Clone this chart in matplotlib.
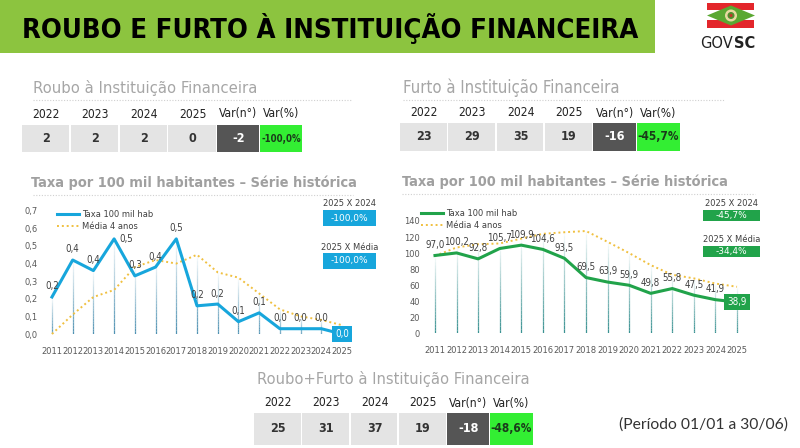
import matplotlib
matplotlib.use("Agg")
import matplotlib.pyplot as plt
from matplotlib import font_manager as fm
from matplotlib.patches import Rectangle, Polygon, Circle
from matplotlib.collections import LineCollection
import numpy as np

W, H = 800, 448

# ---- data ----
years = list(range(2011, 2026))
roubo_taxa = [0.21, 0.42, 0.36, 0.54, 0.33, 0.38, 0.54, 0.16, 0.17, 0.07, 0.12, 0.03, 0.03, 0.03, 0.0]
roubo_media = [0.0, 0.11, 0.21, 0.25, 0.38, 0.42, 0.40, 0.45, 0.35, 0.32, 0.23, 0.14, 0.10, 0.08, 0.05]
furto_taxa = [97.0, 100.2, 92.8, 105.7, 109.9, 104.6, 93.5, 69.5, 63.9, 59.9, 49.8, 55.8, 47.5, 41.9, 38.9]
furto_media = [96.5, 107, 111, 112, 118, 124, 126, 127.5, 114, 100, 85, 73, 68.5, 62, 58]

tab_years = ['2022', '2023', '2024', '2025']
var_heads = ['Var(n°)', 'Var(%)']
roubo_tab = [2, 2, 2, 0]
roubo_var = ['-2', '-100,0%']
furto_tab = [23, 29, 35, 19]
furto_var = ['-16', '-45,7%']
total_tab = [25, 31, 37, 19]
total_var = ['-18', '-48,6%']

roubo_cmp = ['-100,0%', '-100,0%']
furto_cmp = ['-45,7%', '-34,4%']
cmp_labels = ['2025 X 2024', '2025 X Média']

BLUE = '#17a6dc'
GREEN = '#21a34a'
GOLD = '#f0c040'


def fmt(v):
    return f"{v:.1f}".replace('.', ',')


def weight_num(w):
    if isinstance(w, int):
        return w
    return {'bold': 700, 'heavy': 800, 'black': 900, 'semibold': 600, 'demibold': 600,
            'medium': 500}.get(str(w).lower(), 400)


def pick_condensed(bold):
    best = None
    for f in fm.fontManager.ttflist:
        n = f.name.lower()
        st = f.stretch
        cond = ('narrow' in n or 'condensed' in n or
                st in ('condensed', 'semi-condensed', 'extra-condensed', 'ultra-condensed') or
                (isinstance(st, int) and st < 100))
        if not cond or f.style != 'normal' or 'mono' in n:
            continue
        wn = weight_num(f.weight)
        score = abs(wn - (700 if bold else 400))
        if best is None or score < best[0]:
            best = (score, f.fname)
    if best is not None:
        return fm.FontProperties(fname=best[1])
    return fm.FontProperties(family='DejaVu Sans', weight='bold' if bold else 'normal')


COND = pick_condensed(False)
COND_B = pick_condensed(True)

fig = plt.figure(figsize=(W / 100, H / 100), dpi=100)
renderer = fig.canvas.get_renderer()
bg = fig.add_axes([0, 0, 1, 1], zorder=0)
bg.set_xlim(0, W); bg.set_ylim(H, 0); bg.axis('off')


def sized(fp, size):
    p = fp.copy(); p.set_size(size)
    return p


def fit(fp, s, width, cap=None):
    p = sized(fp, 10)
    t = fig.text(0, 0, s, fontproperties=p)
    w = t.get_window_extent(renderer).width
    t.remove()
    size = 10 * width / w
    if cap is not None:
        size = min(size, cap)
    return sized(fp, size)


def axes_px(x0, y0, x1, y1, z):
    return fig.add_axes([x0 / W, 1 - y1 / H, (x1 - x0) / W, (y1 - y0) / H], zorder=z)


# ---- header ----
title = 'ROUBO E FURTO À INSTITUIÇÃO FINANCEIRA'
bg.add_patch(Rectangle((0, 0), 655, 53, color='#8cc43f', lw=0))
bg.text(22, 28, title, fontproperties=fit(COND_B, title, 613), color='black',
        va='center', ha='left')

# logo
bg.add_patch(Rectangle((707, 3), 47, 7.5, color='#e3262b', lw=0))
bg.add_patch(Rectangle((707, 20.5), 47, 7.5, color='#e3262b', lw=0))
bg.add_patch(Polygon([(707, 15.5), (731, 5.5), (755, 15.5), (731, 25.5)], color='#5aa832', lw=0))
bg.add_patch(Circle((731, 15.5), 6, color='#e8d9a0', lw=0))
bg.add_patch(Circle((731, 15.5), 3.5, color='#4f8f2f', lw=0))
bg.add_patch(Circle((731, 15.5), 1.6, color='#c0392b', lw=0))
bg.text(733, 43, 'GOV', fontsize=10.5, color='#222222', ha='right', va='center')
bg.text(734, 43, 'SC', fontsize=10.5, color='#222222', ha='left', va='center',
        fontweight='bold')


def dotted(x0, x1, y):
    bg.plot([x0, x1], [y, y], color='#d0d0d0', lw=0.8, ls=(0, (1, 1.5)))


HEAD_FP = fit(COND, 'Var(n°)', 38)
CELL_FP = sized(COND_B, 9)


def table(title, tx, ty, tw, x0, xd, xg, xe, yh, y0, y1, vals, var):
    bg.text(tx, ty, title, fontproperties=fit(COND, title, tw), color='#a6a6a6',
            va='center', ha='left')
    cw = (xd - x0) / 4
    for i, (yr, v) in enumerate(zip(tab_years, vals)):
        cx = x0 + i * cw
        bg.add_patch(Rectangle((cx, y0), cw - 1.5, y1 - y0, color='#e4e4e4', lw=0))
        bg.text(cx + cw / 2, yh, yr, fontproperties=HEAD_FP, color='#222222',
                ha='center', va='center')
        bg.text(cx + cw / 2, (y0 + y1) / 2, str(v), fontproperties=CELL_FP,
                color='#333333', ha='center', va='center')
    bg.add_patch(Rectangle((xd, y0), xg - xd - 1, y1 - y0, color='#555555', lw=0))
    bg.add_patch(Rectangle((xg, y0), xe - xg, y1 - y0, color='#33ee33', lw=0))
    bg.text((xd + xg) / 2, yh, var_heads[0], fontproperties=HEAD_FP, color='#222222',
            ha='center', va='center')
    bg.text((xg + xe) / 2, yh, var_heads[1], fontproperties=HEAD_FP, color='#222222',
            ha='center', va='center')
    bg.text((xd + xg) / 2, (y0 + y1) / 2, var[0], fontproperties=CELL_FP, color='white',
            ha='center', va='center')
    bg.text((xg + xe) / 2, (y0 + y1) / 2, var[1],
            fontproperties=fit(COND_B, var[1], xe - xg - 2, cap=9), color='#1a3a1a',
            ha='center', va='center')


table('Roubo à Instituição Financeira', 33, 88, 223, 22, 217, 260, 302, 114, 125, 152,
      roubo_tab, roubo_var)
table('Furto à Instituição Financeira', 403, 88, 217, 400, 593, 637, 680, 113, 123, 151,
      furto_tab, furto_var)
table('Roubo+Furto à Instituição Financeira', 257, 379, 272, 254, 447, 490, 533, 403, 413,
      445, total_tab, total_var)
dotted(33, 352, 100)
dotted(403, 724, 100)
dotted(33, 353, 195)
dotted(402, 755, 194)

periodo = '(Período 01/01 a 30/06)'
bg.text(619, 425, periodo, fontproperties=fit(fm.FontProperties(family='Lato'), periodo, 168),
        color='#333333', ha='left', va='center')

chart_title = 'Taxa por 100 mil habitantes – Série histórica'
CT_FP = fit(COND_B, chart_title, 325)
bg.text(31, 183, chart_title, fontproperties=CT_FP, color='#a0a0a0', va='center')
bg.text(402, 182, chart_title, fontproperties=CT_FP, color='#a0a0a0', va='center')

LABEL_FP = sized(COND, 7)
label_shift = {2014: (9, -4)}


def drop_lines(ax, xs, tops, rgb):
    segs, cols = [], []
    n = 24
    for x, t in zip(xs, tops):
        ys = np.linspace(0, t, n + 1)
        for k in range(n):
            segs.append([(x, ys[k]), (x, ys[k + 1])])
            cols.append(rgb + (0.85 * (1 - k / n),))
    ax.add_collection(LineCollection(segs, colors=cols, linewidths=0.9, zorder=1))


def chart(ax, taxa, media, color, ymax, ystep, drop_rgb, leg_anchor, shifts):
    ax.set_facecolor('none')
    drop_lines(ax, years, [max(a, b) for a, b in zip(taxa, media)], drop_rgb)
    ax.plot(years, taxa, color=color, lw=2.2, label='Taxa 100 mil hab', zorder=3,
            clip_on=False)
    ax.plot(years, media, color=GOLD, lw=1.4, ls=(0, (1, 1.5)), label='Média 4 anos',
            zorder=2, clip_on=False)
    for x, v in zip(years[:-1], taxa[:-1]):
        dx, dy = shifts.get(x, (0, 4))
        ax.annotate(fmt(v), (x, v), xytext=(dx, dy), textcoords='offset points',
                    ha='center', va='bottom', fontproperties=LABEL_FP, color='#404040')
    ax.annotate(fmt(taxa[-1]), (years[-1], taxa[-1]), ha='center', va='center',
                fontproperties=LABEL_FP, color='white', zorder=6,
                bbox=dict(boxstyle='square,pad=0.35', fc=color, ec='none'))
    ax.set_xlim(2010.5, 2025.5)
    ax.set_ylim(0, ymax)
    ticks = np.arange(0, ymax + ystep / 2, ystep)
    ax.set_yticks(ticks)
    ax.set_yticklabels([fmt(t) if ystep < 1 else str(int(t)) for t in ticks])
    ax.set_xticks(years)
    ax.set_xticklabels([str(y) for y in years])
    ax.tick_params(length=0, labelsize=6, colors='#595959')
    ax.tick_params(axis='x', pad=9)
    ax.tick_params(axis='y', pad=3)
    for s in ax.spines.values():
        s.set_visible(False)
    leg = ax.legend(loc='upper left', bbox_to_anchor=leg_anchor, frameon=False,
                    fontsize=6, handlelength=2.6, handletextpad=0.4, labelspacing=0.35,
                    borderaxespad=0)
    for t in leg.get_texts():
        t.set_color('#404040')


ax1 = axes_px(41.6, 210.7, 352.4, 334, 2)
chart(ax1, roubo_taxa, roubo_media, BLUE, 0.7, 0.1, (0.2, 0.5, 0.65), (0.04, 1.03),
      label_shift)
ax2 = axes_px(424.2, 221, 747.8, 333.3, 2)
chart(ax2, furto_taxa, furto_media, GREEN, 140, 20, (0.1, 0.5, 0.5), (-0.02, 1.14), {})

# comparison boxes
fg = fig.add_axes([0, 0, 1, 1], zorder=5)
fg.set_xlim(0, W); fg.set_ylim(H, 0); fg.axis('off')
fg.patch.set_alpha(0)


def cmp_boxes(x0, x1, tops, vals, color, h):
    for yt, lab, val in zip(tops, cmp_labels, vals):
        fg.text((x0 + x1) / 2, yt - 6, lab, fontsize=6, color='#404040', ha='center',
                va='center')
        fg.add_patch(Rectangle((x0, yt), x1 - x0, h, color=color, lw=0))
        fg.text((x0 + x1) / 2, yt + h / 2, val, fontsize=6.5, color='white', ha='center',
                va='center')


cmp_boxes(323, 376, [210, 253], roubo_cmp, BLUE, 16)
cmp_boxes(703, 760, [210, 246], furto_cmp, GREEN, 11)

fig.savefig('out.png', dpi=100)
